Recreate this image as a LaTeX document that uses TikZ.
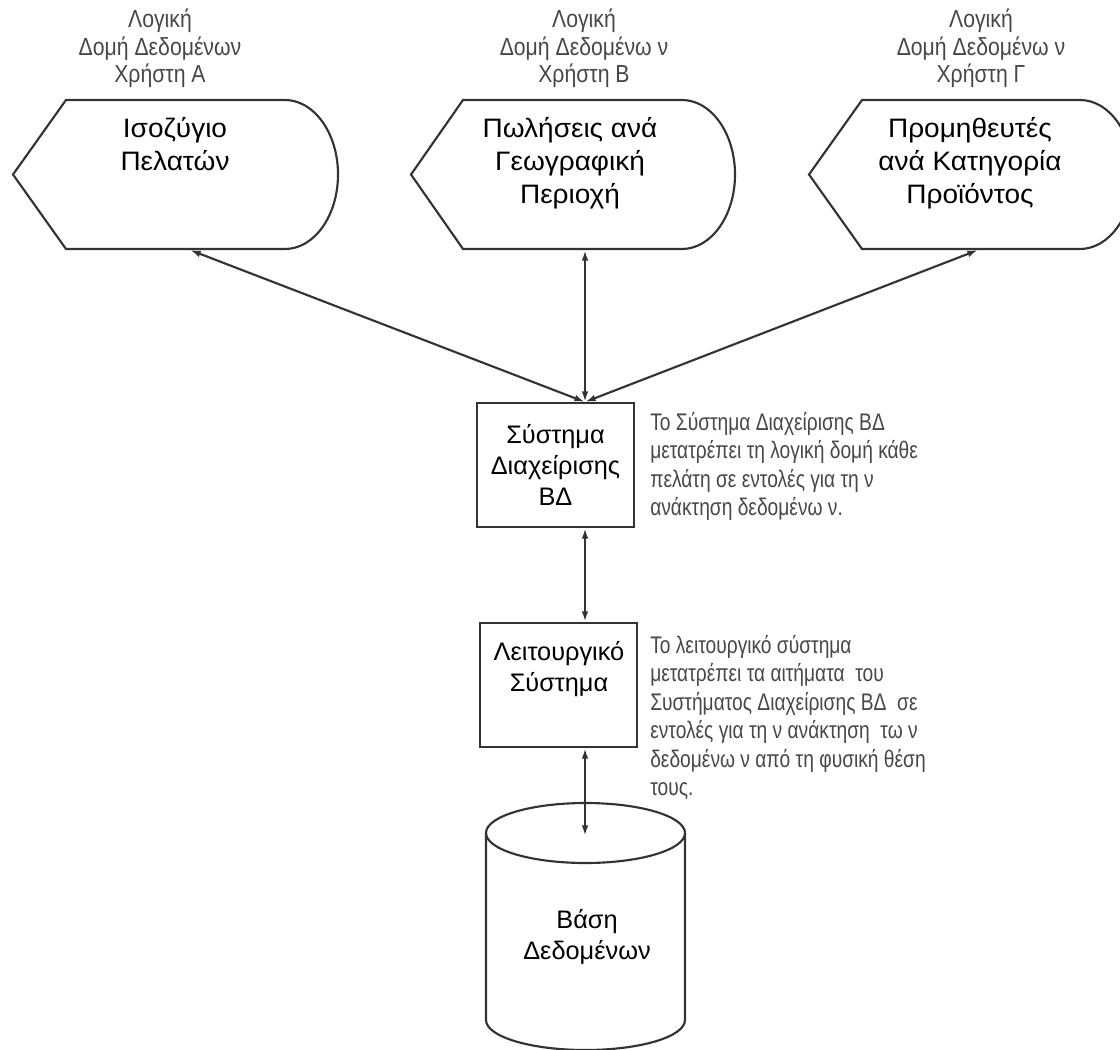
\documentclass[tikz,border=0pt]{standalone}
\usepackage{fontspec}
\setmainfont{Liberation Sans}
\newfontfamily\narrowfont[FakeStretch=0.8]{Liberation Sans}
\newfontfamily\captionfont[FakeStretch=0.86]{Liberation Sans}
\newfontfamily\widefont[FakeStretch=1.05]{Liberation Sans}
\usetikzlibrary{arrows.meta}
\newcommand\clines[1]{\begin{tabular}[t]{@{}c@{}}#1\end{tabular}}
\newcommand\llines[1]{\begin{tabular}[t]{@{}l@{}}#1\end{tabular}}
\begin{document}
\begin{tikzpicture}[x=0.75pt,y=-0.75pt,
  outline/.style={draw=black!80,line width=1.6pt},
  caption/.style={inner sep=0,anchor=base,text=black!72,font=\captionfont\fontsize{18.5}{20.6}\selectfont},
  label/.style={inner sep=0,anchor=base,font=\widefont\fontsize{20}{24.75}\selectfont},
  boxlabel/.style={inner sep=0,anchor=base,font=\fontsize{19}{23.6}\selectfont},
  note/.style={inner sep=0,anchor=base west,text=black!72,font=\narrowfont\fontsize{18}{21.4}\selectfont},
  procbox/.style={outline,inner sep=0,minimum width=157*0.75pt,minimum height=124*0.75pt},
  link/.style={line width=1.6pt,draw=black!80,{Latex[length=8pt,width=5pt]}-{Latex[length=8pt,width=5pt]}}]

\useasboundingbox (0,0) rectangle (1120,1049);

% user views: display shapes
\draw[outline] (13,174.5) -- (66,100) -- (285,100)
  arc[start angle=-90,end angle=90,x radius=53,y radius=74.5] -- (66,249) -- cycle;
\draw[outline] (411,174.5) -- (463,100) -- (682,100)
  arc[start angle=-90,end angle=90,x radius=53,y radius=74.5] -- (463,249) -- cycle;
\draw[outline] (809,174.5) -- (862,100) -- (1080,100)
  arc[start angle=-90,end angle=90,x radius=53,y radius=74.5] -- (862,249) -- cycle;

% captions above the views
\node[caption] (capA) at (160,28) {\clines{Λογική\\Δομή Δεδομένων\\Χρήστη Α}};
\node[caption] (capB) at (584,28) {\clines{Λογική\\Δομή Δεδομένω ν\\Χρήστη Β}};
\node[caption] (capC) at (981,28) {\clines{Λογική\\Δομή Δεδομένω ν\\Χρήστη Γ}};

% texts inside the views
\node[label] (viewA) at (175,137) {\clines{Ισοζύγιο\\Πελατών}};
\node[label] (viewB) at (570,137) {\clines{Πωλήσεις ανά\\Γεωγραφική\\Περιοχή}};
\node[label] (viewC) at (970,137) {\clines{Προμηθευτές\\ανά Κατηγορία\\Προϊόντος}};

% DBMS and operating system
\node[procbox] (dbms) at (555.5,465) {};
\node[boxlabel] (dbmsText) at (555.5,443) {\clines{Σύστημα\\Διαχείρισης\\ΒΔ}};
\node[procbox] (os) at (558.5,685) {};
\node[boxlabel] (osText) at (559,660) {\clines{Λειτουργικό\\Σύστημα}};

% database cylinder
\draw[outline] (486,833) -- (486,1020)
  arc[start angle=180,end angle=0,x radius=99.5,y radius=30] -- (685,833);
\draw[outline] (585.5,833) ellipse[x radius=99.5,y radius=30];
\node[boxlabel] (dbText) at (587,928) {\clines{Βάση\\Δεδομένων}};

% explanatory notes
\node[note] (noteA) at (650,430) {\llines{Το Σύστημα Διαχείρισης ΒΔ\\μετατρέπει τη λογική δομή κάθε\\πελάτη σε εντολές για τη ν\\ανάκτηση δεδομένω ν.}};
\node[note] (noteB) at (650,653) {\llines{Το λειτουργικό σύστημα\\μετατρέπει τα αιτήματα\ \ του\\Συστήματος Διαχείρισης ΒΔ\ \ σε\\εντολές για τη ν ανάκτηση\ \ τω ν\\δεδομένω ν από τη φυσική θέση\\τους.}};

% connector end points
\coordinate (aOut) at (190,250);
\coordinate (bOut) at (585,250);
\coordinate (cOut) at (978,250);
\coordinate (hub) at (585,402);
\coordinate (dbTop) at (585,836);

\draw[link] (aOut) -- (hub);
\draw[link] (bOut) -- (hub);
\draw[link] (cOut) -- (hub);
\draw[link] (dbms.south -| hub) -- (os.north -| hub);
\draw[link] (os.south -| hub) -- (dbTop);
\end{tikzpicture}
\end{document}
